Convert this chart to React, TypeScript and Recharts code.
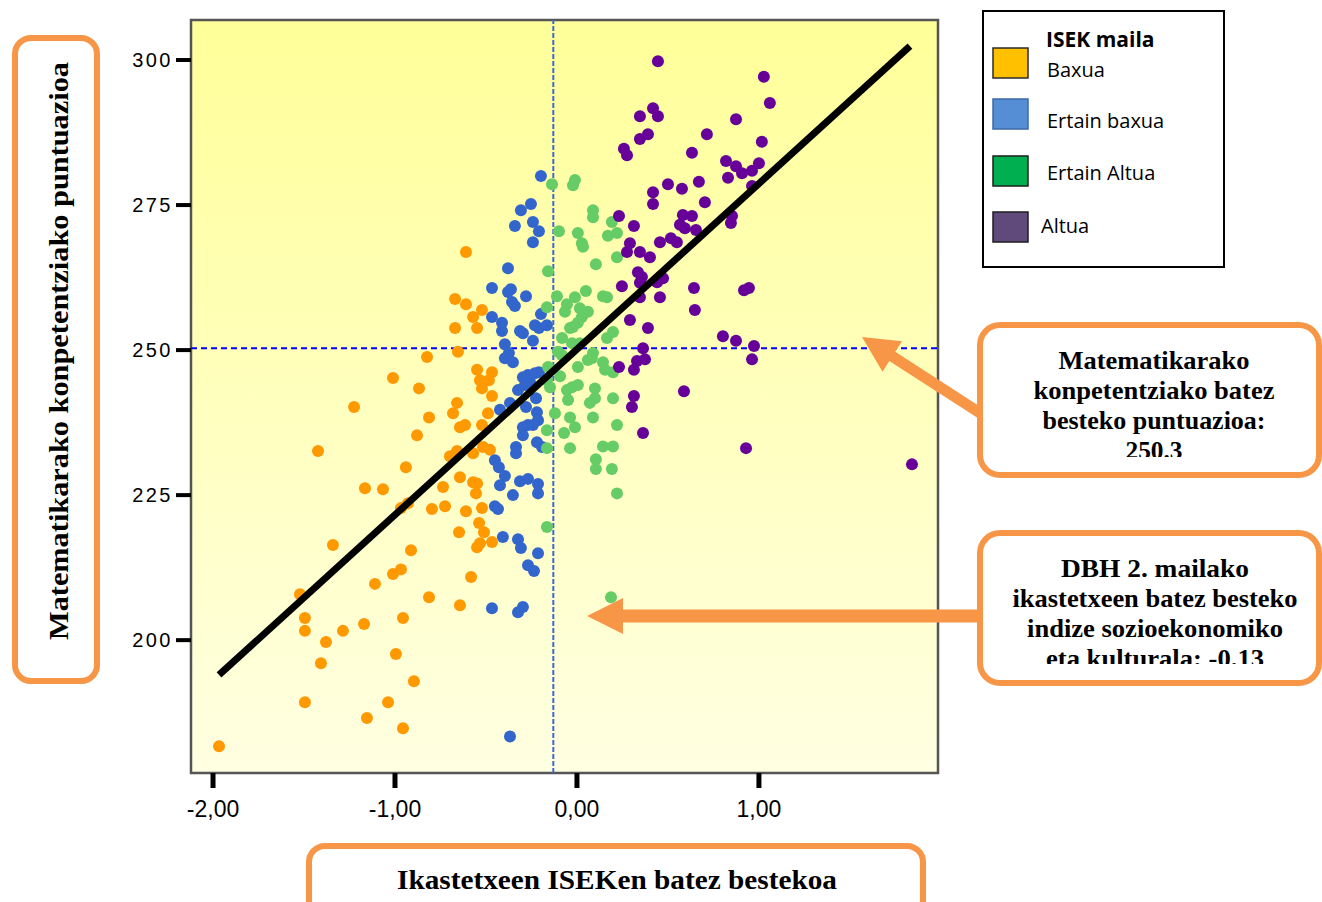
import React from 'react'
import { ScatterChart, Scatter, XAxis, YAxis, CartesianGrid, ReferenceLine, ReferenceArea } from 'recharts'

// [ikastetxearen ISEK batez bestekoa, matematikako puntuazioa]
const baxua: [number, number][] = [
  [-0.670, 258.8], [-0.670, 253.8], [-0.654, 249.7], [-0.824, 248.8], [-1.011, 245.2], [-0.868, 243.4],
  [-1.225, 240.2], [-0.813, 238.4], [-0.681, 239.1], [-0.659, 240.9], [-0.643, 236.7], [-0.879, 235.3],
  [-1.423, 232.6], [-0.698, 231.7], [-0.659, 232.6], [-0.940, 229.8], [-0.643, 228.1], [-1.165, 226.2],
  [-1.066, 226.0], [-0.736, 226.4], [-0.797, 222.6], [-0.725, 223.1], [-0.967, 222.8], [-0.929, 223.6],
  [-0.648, 218.6], [-1.341, 216.4], [-0.912, 215.5], [-1.011, 211.4], [-0.967, 212.2], [-1.110, 209.7],
  [-1.522, 207.9], [-0.813, 207.4], [-0.643, 206.0], [-1.495, 203.8], [-0.956, 203.8], [-1.170, 202.8],
  [-1.495, 201.6], [-1.286, 201.6], [-1.379, 199.7], [-0.995, 197.6], [-1.407, 196.0], [-0.896, 192.9],
  [-1.495, 189.3], [-1.038, 189.3], [-1.154, 186.6], [-0.956, 184.8], [-1.967, 181.7], [-0.610, 266.9],
  [-0.610, 257.9], [-0.522, 256.9], [-0.571, 255.7], [-0.549, 253.8], [-0.549, 246.6], [-0.467, 246.2],
  [-0.533, 244.8], [-0.484, 244.8], [-0.522, 243.4], [-0.467, 242.1], [-0.489, 239.1], [-0.615, 237.1],
  [-0.522, 237.1], [-0.571, 232.2], [-0.516, 233.3], [-0.478, 232.8], [-0.571, 227.2], [-0.549, 227.0],
  [-0.555, 225.3], [-0.610, 222.2], [-0.522, 222.8], [-0.538, 220.2], [-0.511, 218.6], [-0.467, 216.9],
  [-0.549, 216.0], [-0.533, 216.7], [-0.582, 210.9],
]

const ertainBaxua: [number, number][] = [
  [-0.198, 280.0], [-0.308, 274.1], [-0.253, 275.2], [-0.341, 271.4], [-0.242, 272.1], [-0.209, 270.5],
  [-0.242, 268.6], [-0.379, 264.1], [-0.467, 260.7], [-0.379, 260.0], [-0.363, 260.5], [-0.280, 259.3],
  [-0.357, 258.3], [-0.341, 257.6], [-0.467, 255.7], [-0.412, 254.7], [-0.412, 253.3], [-0.313, 253.3],
  [-0.297, 252.9], [-0.198, 256.2], [-0.231, 254.3], [-0.209, 253.8], [-0.165, 254.3], [-0.242, 251.6],
  [-0.396, 251.0], [-0.374, 249.5], [-0.396, 248.6], [-0.352, 247.9], [-0.297, 245.3], [-0.269, 245.7],
  [-0.231, 246.0], [-0.209, 246.2], [-0.324, 243.1], [-0.286, 244.0], [-0.258, 244.5], [-0.225, 241.7],
  [-0.368, 240.9], [-0.280, 240.2], [-0.423, 239.7], [-0.220, 239.3], [-0.214, 237.9], [-0.242, 237.1],
  [-0.269, 237.1], [-0.297, 236.7], [-0.297, 235.3], [-0.335, 233.3], [-0.335, 232.2], [-0.220, 234.1],
  [-0.192, 233.3], [-0.451, 231.0], [-0.429, 229.8], [-0.396, 228.3], [-0.423, 226.7], [-0.313, 227.4],
  [-0.269, 227.8], [-0.214, 226.9], [-0.214, 225.3], [-0.352, 225.0], [-0.451, 223.1], [-0.434, 222.6],
  [-0.407, 217.8], [-0.324, 217.4], [-0.308, 215.9], [-0.214, 215.0], [-0.269, 212.9], [-0.236, 211.9],
  [-0.467, 205.5], [-0.324, 204.8], [-0.297, 205.7], [-0.368, 183.4],
]

const ertainAltua: [number, number][] = [
  [-0.137, 278.6], [-0.022, 278.4], [-0.011, 279.3], [0.088, 274.1], [0.088, 272.9], [0.192, 272.1],
  [-0.099, 270.5], [0.005, 270.2], [0.027, 268.4], [0.033, 267.8], [0.170, 269.7], [0.220, 270.2],
  [0.220, 266.0], [0.104, 264.8], [-0.159, 263.6], [0.049, 260.2], [-0.110, 259.3], [-0.011, 259.1],
  [0.143, 259.3], [0.165, 259.1], [-0.055, 257.9], [-0.066, 256.6], [0.016, 257.2], [0.060, 256.6],
  [0.027, 255.7], [0.005, 254.7], [-0.022, 254.0], [-0.165, 257.4], [-0.038, 253.8], [0.198, 253.1],
  [0.165, 252.1], [-0.082, 252.1], [-0.027, 251.2], [0.016, 251.2], [-0.104, 249.7], [-0.082, 249.1],
  [0.088, 249.5], [0.082, 248.6], [0.060, 248.3], [0.005, 247.1], [0.143, 247.9], [0.154, 246.6],
  [0.198, 246.2], [-0.159, 247.1], [-0.093, 245.5], [-0.165, 244.8], [-0.148, 243.6], [-0.055, 243.1],
  [-0.027, 243.6], [0.005, 244.0], [0.099, 243.4], [0.099, 241.7], [0.071, 240.9], [0.198, 241.7],
  [-0.049, 241.4], [-0.121, 239.1], [-0.038, 238.4], [0.088, 238.4], [-0.011, 236.7], [-0.165, 236.2],
  [-0.071, 235.7], [0.220, 237.1], [-0.165, 233.1], [-0.038, 233.1], [0.143, 233.4], [0.198, 233.4],
  [0.104, 231.2], [0.104, 229.5], [0.192, 229.5], [0.220, 225.3], [-0.165, 219.5], [0.187, 207.4],
]

const altua: [number, number][] = [
  [0.445, 299.8], [1.027, 297.1], [1.060, 292.6], [0.346, 290.3], [0.418, 291.7], [0.445, 290.3],
  [0.874, 289.8], [0.390, 287.2], [0.346, 286.4], [0.714, 287.2], [0.258, 284.7], [0.275, 283.6],
  [0.632, 284.0], [1.016, 285.9], [0.819, 282.6], [0.874, 281.7], [0.907, 280.5], [0.962, 280.9],
  [1.000, 282.2], [0.830, 279.7], [0.962, 278.3], [0.500, 278.6], [0.577, 277.8], [0.670, 279.0],
  [0.418, 277.2], [0.418, 275.2], [0.703, 275.5], [0.231, 273.1], [0.313, 271.4], [0.582, 273.3],
  [0.632, 273.1], [0.566, 271.6], [0.593, 271.0], [0.654, 270.7], [0.852, 273.1], [0.846, 271.9],
  [0.456, 268.6], [0.516, 269.3], [0.549, 268.6], [0.291, 268.4], [0.275, 266.9], [0.346, 266.9],
  [0.401, 266.0], [0.335, 263.4], [0.357, 262.6], [0.473, 262.4], [0.247, 261.0], [0.643, 260.7],
  [0.918, 260.3], [0.945, 260.7], [0.456, 259.1], [0.346, 259.1], [0.346, 261.6], [0.440, 261.7],
  [0.648, 256.9], [0.291, 255.2], [0.390, 253.8], [0.802, 252.4], [0.874, 251.6], [0.973, 250.7],
  [0.962, 248.4], [0.363, 250.3], [0.330, 248.1], [0.374, 248.4], [0.231, 247.1], [0.313, 246.6],
  [0.588, 242.9], [0.313, 242.1], [0.302, 240.2], [0.363, 235.7], [0.929, 233.1], [1.841, 230.3],
]

// erregresio lerroa (marrazkian irakurritako muturrak)
const fitLine = [{ x: -1.967, y: 194.0 }, { x: 1.83, y: 302.4 }]

const meanIsek = -0.13
const meanScore = 250.3

const xTicks = [-2, -1, 0, 1]
const yTicks = [200, 225, 250, 275, 300]
const xDomain: [number, number] = [-2.121, 1.984]
const yDomain: [number, number] = [177.1, 306.9]

const groups = [
  { name: 'Baxua', data: baxua, color: '#ff9900', swatch: '#ffc000', edge: '#2b2b2b' },
  { name: 'Ertain baxua', data: ertainBaxua, color: '#3366cc', swatch: '#558ed5', edge: '#3d6aa6' },
  { name: 'Ertain Altua', data: ertainAltua, color: '#66cc66', swatch: '#00b050', edge: '#1e1e1e' },
  { name: 'Altua', data: altua, color: '#660099', swatch: '#604a7b', edge: '#1e1e1e' },
]

const ORANGE = '#f79646'
const SERIF = '"Liberation Serif", "Times New Roman", serif'
const SANS = '"Liberation Sans", Arial, sans-serif'
const LEGEND_FONT = '"Open Sans", "Noto Sans", sans-serif'

const callout1 = [
  { t: 'Matematikarako', w: 191 },
  { t: 'konpetentziako batez', w: 241 },
  { t: 'besteko puntuazioa:', w: 223 },
  { t: '250.3', w: 57 },
]
const callout2 = [
  { t: 'DBH 2. mailako', w: 188 },
  { t: 'ikastetxeen batez besteko', w: 285 },
  { t: 'indize sozioekonomiko', w: 256 },
  { t: 'eta kulturala: -0.13', w: 218 },
]

const fmtX = (v: number) => v.toFixed(2).replace('.', ',')

const dot = (fill: string) => (p: any) => <circle cx={p.cx} cy={p.cy} r={6} fill={fill} />

function arrowPoints(x0: number, y0: number, x1: number, y1: number, w: number, hl: number, hw: number) {
  const len = Math.hypot(x1 - x0, y1 - y0)
  const ux = (x1 - x0) / len
  const uy = (y1 - y0) / len
  const nx = -uy
  const ny = ux
  const bx = x1 - ux * hl
  const by = y1 - uy * hl
  const pts = [
    [x0 + (nx * w) / 2, y0 + (ny * w) / 2],
    [bx + (nx * w) / 2, by + (ny * w) / 2],
    [bx + nx * hw, by + ny * hw],
    [x1, y1],
    [bx - nx * hw, by - ny * hw],
    [bx - (nx * w) / 2, by - (ny * w) / 2],
    [x0 - (nx * w) / 2, y0 - (ny * w) / 2],
  ]
  return pts.map((p) => p.join(',')).join(' ')
}

function Overlay() {
  const legendRows = [48, 99, 156, 212]
  const legendText = [77, 128, 180, 233]
  return (
    <svg
      width={1322}
      height={902}
      style={{ position: 'absolute', left: 0, top: 0, pointerEvents: 'none' }}
    >
      <defs>
        <clipPath id="clip1">
          <rect x={983} y={328} width={336} height={129} />
        </clipPath>
        <clipPath id="clip2">
          <rect x={983} y={536} width={336} height={128} />
        </clipPath>
      </defs>

      {/* geziak */}
      <polygon points={arrowPoints(980, 413, 862, 337, 11, 36, 18)} fill={ORANGE} />
      <polygon points={arrowPoints(980, 616, 587, 616, 13, 36, 18)} fill={ORANGE} />

      {/* ardatzen izenburuak */}
      <rect x={15} y={38} width={82} height={643} rx={16} fill="#fff" stroke={ORANGE} strokeWidth={6} />
      <text
        transform="translate(68,351) rotate(-90)"
        textAnchor="middle"
        fontFamily={SERIF}
        fontWeight="bold"
        fontSize={27}
        textLength={578}
        lengthAdjust="spacingAndGlyphs"
      >
        Matematikarako konpetentziako puntuazioa
      </text>

      <rect x={309} y={846} width={614} height={90} rx={16} fill="#fff" stroke={ORANGE} strokeWidth={6} />
      <text
        x={617}
        y={889}
        textAnchor="middle"
        fontFamily={SERIF}
        fontWeight="bold"
        fontSize={27}
        textLength={440}
        lengthAdjust="spacingAndGlyphs"
      >
        Ikastetxeen ISEKen batez bestekoa
      </text>

      {/* oharrak */}
      <rect x={980} y={325} width={339} height={150} rx={20} fill="#fff" stroke={ORANGE} strokeWidth={6} />
      <g clipPath="url(#clip1)">
        {callout1.map((l, i) => (
          <text
            key={l.t}
            x={1154}
            y={369 + i * 30}
            textAnchor="middle"
            fontFamily={SERIF}
            fontWeight="bold"
            fontSize={26}
            textLength={l.w}
            lengthAdjust="spacingAndGlyphs"
          >
            {l.t}
          </text>
        ))}
      </g>

      <rect x={980} y={533} width={339} height={150} rx={20} fill="#fff" stroke={ORANGE} strokeWidth={6} />
      <g clipPath="url(#clip2)">
        {callout2.map((l, i) => (
          <text
            key={l.t}
            x={1155}
            y={577 + i * 30}
            textAnchor="middle"
            fontFamily={SERIF}
            fontWeight="bold"
            fontSize={26}
            textLength={l.w}
            lengthAdjust="spacingAndGlyphs"
          >
            {l.t}
          </text>
        ))}
      </g>

      {/* legenda */}
      <rect x={983} y={11} width={241} height={256} fill="#fff" stroke="#000" strokeWidth={2} />
      <text x={1046} y={47} fontFamily={LEGEND_FONT} fontWeight="bold" fontSize={21}>
        ISEK maila
      </text>
      {groups.map((g, i) => (
        <g key={g.name}>
          <rect x={993} y={legendRows[i]} width={35} height={30} fill={g.swatch} stroke={g.edge} strokeWidth={1.5} />
          <text x={i === 3 ? 1041 : 1047} y={legendText[i]} fontFamily={LEGEND_FONT} fontSize={20}>
            {g.name}
          </text>
        </g>
      ))}
    </svg>
  )
}

export default function App() {
  return (
    <div
      style={{
        position: 'absolute',
        left: 0,
        top: 0,
        width: 1322,
        height: 902,
        background: '#fff',
        overflow: 'hidden',
      }}
    >
      <ScatterChart width={1322} height={902} margin={{ top: 20, right: 384, bottom: 79, left: 131 }}>
        <defs>
          <linearGradient id="plotBg" x1="0" y1="0" x2="0" y2="1">
            <stop offset="0%" stopColor="#ffff99" />
            <stop offset="100%" stopColor="#ffffe2" />
          </linearGradient>
        </defs>
        <CartesianGrid horizontal={false} vertical={false} fill="url(#plotBg)" fillOpacity={1} />
        <XAxis
          type="number"
          dataKey="x"
          domain={xDomain}
          ticks={xTicks}
          allowDataOverflow
          height={50}
          tickFormatter={fmtX}
          axisLine={false}
          tickLine={{ stroke: '#000', strokeWidth: 5 }}
          tickSize={15}
          tickMargin={13}
          tick={{ fill: '#000', fontSize: 23, fontFamily: SANS }}
        />
        <YAxis
          type="number"
          dataKey="y"
          domain={yDomain}
          ticks={yTicks}
          allowDataOverflow
          width={60}
          axisLine={false}
          tickLine={{ stroke: '#000', strokeWidth: 4 }}
          tickSize={15}
          tickMargin={3}
          tick={{ fill: '#000', fontSize: 20, fontFamily: SANS, letterSpacing: 2.5 }}
        />
        <ReferenceArea
          x1={xDomain[0]}
          x2={xDomain[1]}
          y1={yDomain[0]}
          y2={yDomain[1]}
          fill="none"
          stroke="#555"
          strokeWidth={2.5}
          ifOverflow="visible"
        />
        <ReferenceLine y={meanScore} stroke="#0000ff" strokeWidth={2} strokeDasharray="6 4" />
        <ReferenceLine x={meanIsek} stroke="#3a6bd0" strokeWidth={2} strokeDasharray="5 2" />
        {groups.map((g) => (
          <Scatter
            key={g.name}
            name={g.name}
            data={g.data.map(([x, y]) => ({ x, y }))}
            shape={dot(g.color)}
            isAnimationActive={false}
          />
        ))}
        <Scatter
          data={fitLine}
          line={{ stroke: '#000', strokeWidth: 7 }}
          shape={() => <g />}
          isAnimationActive={false}
        />
      </ScatterChart>
      <Overlay />
    </div>
  )
}
